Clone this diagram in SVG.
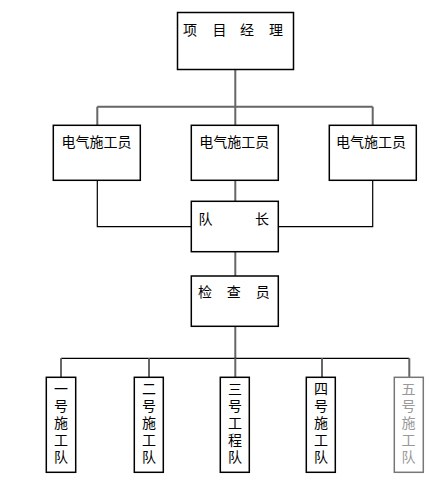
<svg xmlns="http://www.w3.org/2000/svg" width="445" height="479" viewBox="0 0 445 479">
<style>
.box{fill:#fff;stroke:#000;stroke-width:1.5}
.gbox{fill:#fff;stroke:#777;stroke-width:1.5}
.t{font-family:"Noto Sans CJK SC","Noto Sans CJK TC",sans-serif;font-size:14px;fill:#000}
.v{font-family:"Noto Sans CJK SC","Noto Sans CJK TC",sans-serif;font-size:14px;fill:#000;writing-mode:vertical-rl;letter-spacing:3px}
.g{fill:#999}
.c{fill:none;stroke:#666;stroke-width:2}
.c1{fill:none;stroke:#000;stroke-width:1.2}
</style>
<rect width="445" height="479" fill="#fff"/>
<g id="connectors">
<path class="c" d="M235.3 69.5V106.7M97.3 106.7H372.7M97.3 106.7V125.3M235.3 106.7V125.3M372.7 106.7V125.3"/>
<path class="c" d="M235.3 180.3V201.3M235.3 251.7V276"/>
<path class="c1" d="M97.3 180.3V226.7H191.3M372.7 180.3V226.7H278.3"/>
<path class="c" d="M235.3 326.3V358.3"/>
<path class="c1" d="M61 358.3H409.3"/>
<path class="c" d="M61 358.3V377.3M149 358.3V377.3M235.3 358.3V377.3M322 358.3V377.3M409.3 358.3V377.3"/>
</g>
<g id="pm">
<rect class="box" x="177.5" y="12.5" width="116" height="57"/>
<text class="t" x="183 212.5 240 269" y="34.5">项目经理</text>
</g>
<g id="elec1">
<rect class="box" x="53.3" y="125.3" width="87" height="55"/>
<text class="t" x="61.5" y="147">电气施工员</text>
</g>
<g id="elec2">
<rect class="box" x="191.3" y="125.3" width="87" height="55"/>
<text class="t" x="199.3" y="147">电气施工员</text>
</g>
<g id="elec3">
<rect class="box" x="329.3" y="125.3" width="87" height="55"/>
<text class="t" x="336" y="147">电气施工员</text>
</g>
<g id="leader">
<rect class="box" x="191.3" y="201.3" width="87" height="50.4"/>
<text class="t" x="198.5 255" y="223.5">队长</text>
</g>
<g id="inspector">
<rect class="box" x="191.3" y="276" width="87" height="50.3"/>
<text class="t" x="198 226.7 255.7" y="297">检查员</text>
</g>
<g id="team1">
<rect class="box" x="46.3" y="377.3" width="29.4" height="95"/>
<text class="v" x="61" y="381.5">一号施工队</text>
</g>
<g id="team2">
<rect class="box" x="134.3" y="377.3" width="29" height="95"/>
<text class="v" x="149" y="381.5">二号施工队</text>
</g>
<g id="team3">
<rect class="box" x="220.3" y="377.3" width="29" height="95"/>
<text class="v" x="235" y="381.5">三号工程队</text>
</g>
<g id="team4">
<rect class="box" x="306.3" y="377.3" width="29" height="95"/>
<text class="v" x="321" y="381.5">四号施工队</text>
</g>
<g id="team5">
<rect class="gbox" x="394.3" y="377.3" width="29" height="95"/>
<text class="v g" x="408.5" y="381.5">五号施工队</text>
</g>
</svg>
